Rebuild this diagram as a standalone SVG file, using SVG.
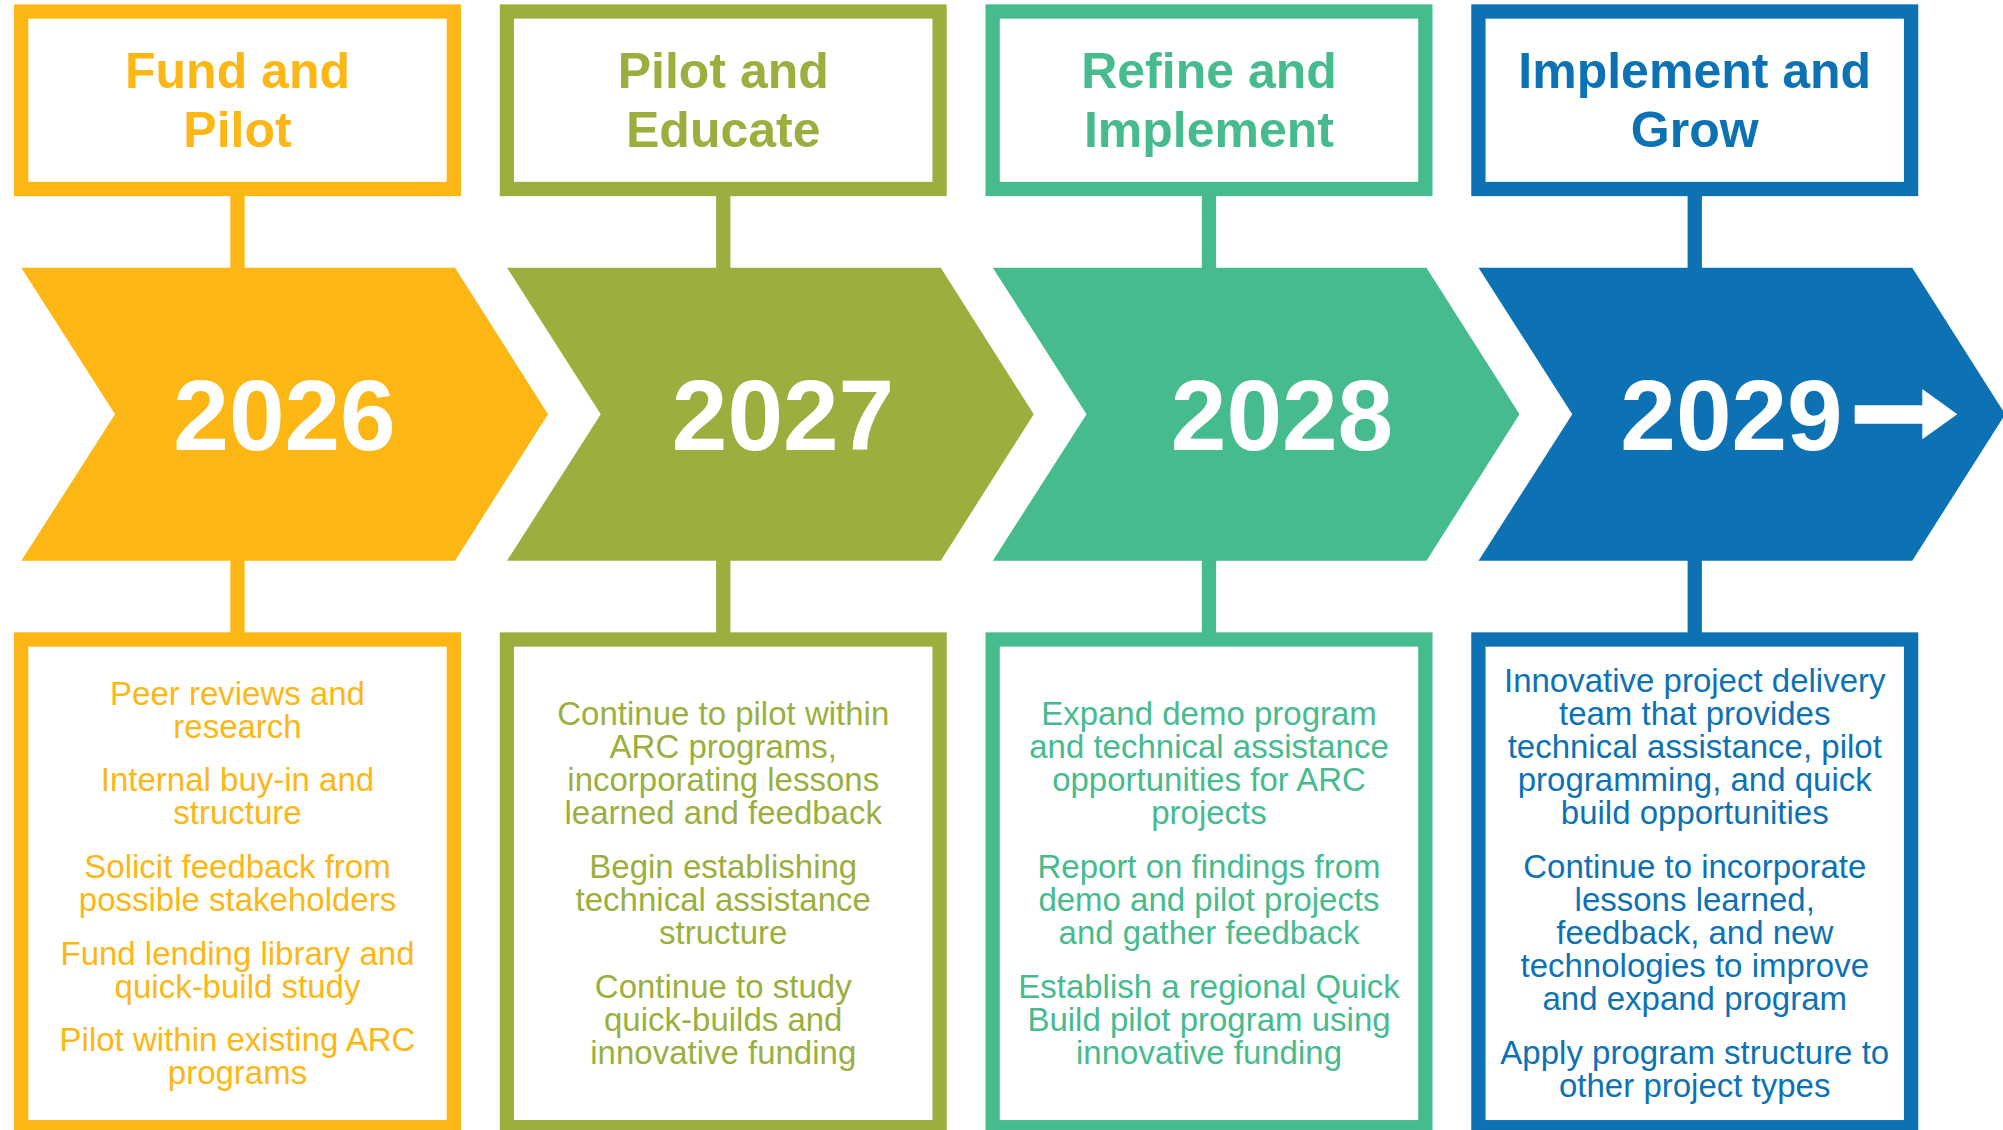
<svg xmlns="http://www.w3.org/2000/svg" width="2003" height="1130" viewBox="0 0 2003 1130">
  <style>
    .box { fill: #ffffff; stroke-width: 14.3; }
    .stem { stroke-width: 14.3; fill: none; }
    .hdr { font-family: "Liberation Sans", Arial, sans-serif; font-weight: bold; font-size: 50px; text-anchor: middle; }
    .year { font-family: "Liberation Sans", Arial, sans-serif; font-weight: bold; font-size: 100px; text-anchor: middle; fill: #ffffff; }
    .body { font-family: "Liberation Sans", Arial, sans-serif; font-size: 33px; text-anchor: middle; }
    .c1 { stroke: #FCB715; } .f1 { fill: #FCB715; }
    .c2 { stroke: #9BAF3E; } .f2 { fill: #9BAF3E; }
    .c3 { stroke: #46BB8E; } .f3 { fill: #46BB8E; }
    .c4 { stroke: #0D72B4; } .f4 { fill: #0D72B4; }
  </style>
  <rect width="2003" height="1130" fill="#ffffff"/>

  <g id="connectors">
    <line class="stem c1" x1="237.5" y1="190" x2="237.5" y2="269"/>
    <line class="stem c1" x1="237.5" y1="559" x2="237.5" y2="640"/>
    <line class="stem c2" x1="723.25" y1="190" x2="723.25" y2="269"/>
    <line class="stem c2" x1="723.25" y1="559" x2="723.25" y2="640"/>
    <line class="stem c3" x1="1209" y1="190" x2="1209" y2="269"/>
    <line class="stem c3" x1="1209" y1="559" x2="1209" y2="640"/>
    <line class="stem c4" x1="1694.75" y1="190" x2="1694.75" y2="269"/>
    <line class="stem c4" x1="1694.75" y1="559" x2="1694.75" y2="640"/>
  </g>

  <!-- Headers -->
  <g id="header-2026">
    <rect class="box c1" x="21.15" y="11.5" width="432.7" height="177.5"/>
    <text class="hdr f1" x="237.5" y="88">Fund and<tspan x="237.5" y="147">Pilot</tspan></text>
  </g>
  <g id="header-2027">
    <rect class="box c2" x="506.9" y="11.5" width="432.7" height="177.5"/>
    <text class="hdr f2" x="723.25" y="88">Pilot and<tspan x="723.25" y="147">Educate</tspan></text>
  </g>
  <g id="header-2028">
    <rect class="box c3" x="992.65" y="11.5" width="432.7" height="177.5"/>
    <text class="hdr f3" x="1209" y="88">Refine and<tspan x="1209" y="147">Implement</tspan></text>
  </g>
  <g id="header-2029">
    <rect class="box c4" x="1478.4" y="11.5" width="432.7" height="177.5"/>
    <text class="hdr f4" x="1694.75" y="88">Implement and<tspan x="1694.75" y="147">Grow</tspan></text>
  </g>

  <!-- Chevrons -->
  <g id="chevron-2026">
    <polygon class="f1" points="21.3,267.7 455,267.7 548,414.2 455,560.7 21.3,560.7 115,414.2"/>
    <text class="year" x="284.5" y="450">2026</text>
  </g>
  <g id="chevron-2027">
    <polygon class="f2" points="507.05,267.7 940.75,267.7 1033.75,414.2 940.75,560.7 507.05,560.7 600.75,414.2"/>
    <text class="year" x="783" y="450">2027</text>
  </g>
  <g id="chevron-2028">
    <polygon class="f3" points="992.8,267.7 1426.5,267.7 1519.5,414.2 1426.5,560.7 992.8,560.7 1086.5,414.2"/>
    <text class="year" x="1282" y="450">2028</text>
  </g>
  <g id="chevron-2029">
    <polygon class="f4" points="1478.55,267.7 1912.25,267.7 2005.25,414.2 1912.25,560.7 1478.55,560.7 1572.25,414.2"/>
    <text class="year" x="1731.5" y="450">2029</text>
    <polygon fill="#ffffff" points="1854.7,405.3 1922.3,405.3 1922.3,389 1957.3,414.3 1922.3,439.3 1922.3,423.7 1854.7,423.7"/>
  </g>

  <!-- Detail boxes -->
  <g id="details-2026">
    <rect class="box c1" x="21.15" y="639.5" width="432.7" height="487.7"/>
    <text class="body f1" x="237.5" y="705">Peer reviews and<tspan x="237.5" y="738">research</tspan></text>
    <text class="body f1" x="237.5" y="791">Internal buy-in and<tspan x="237.5" y="824">structure</tspan></text>
    <text class="body f1" x="237.5" y="877.5">Solicit feedback from<tspan x="237.5" y="910.5">possible stakeholders</tspan></text>
    <text class="body f1" x="237.5" y="964.5">Fund lending library and<tspan x="237.5" y="997.5">quick-build study</tspan></text>
    <text class="body f1" x="237.5" y="1051">Pilot within existing ARC<tspan x="237.5" y="1084">programs</tspan></text>
  </g>
  <g id="details-2027">
    <rect class="box c2" x="506.9" y="639.5" width="432.7" height="487.7"/>
    <text class="body f2" x="723.25" y="725">Continue to pilot within<tspan x="723.25" y="758">ARC programs,</tspan><tspan x="723.25" y="791">incorporating lessons</tspan><tspan x="723.25" y="824">learned and feedback</tspan></text>
    <text class="body f2" x="723.25" y="878">Begin establishing<tspan x="723.25" y="911">technical assistance</tspan><tspan x="723.25" y="944">structure</tspan></text>
    <text class="body f2" x="723.25" y="998">Continue to study<tspan x="723.25" y="1031">quick-builds and</tspan><tspan x="723.25" y="1064">innovative funding</tspan></text>
  </g>
  <g id="details-2028">
    <rect class="box c3" x="992.65" y="639.5" width="432.7" height="487.7"/>
    <text class="body f3" x="1209" y="725">Expand demo program<tspan x="1209" y="758">and technical assistance</tspan><tspan x="1209" y="791">opportunities for ARC</tspan><tspan x="1209" y="824">projects</tspan></text>
    <text class="body f3" x="1209" y="878">Report on findings from<tspan x="1209" y="911">demo and pilot projects</tspan><tspan x="1209" y="944">and gather feedback</tspan></text>
    <text class="body f3" x="1209" y="998">Establish a regional Quick<tspan x="1209" y="1031">Build pilot program using</tspan><tspan x="1209" y="1064">innovative funding</tspan></text>
  </g>
  <g id="details-2029">
    <rect class="box c4" x="1478.4" y="639.5" width="432.7" height="487.7"/>
    <text class="body f4" x="1694.75" y="692">Innovative project delivery<tspan x="1694.75" y="725">team that provides</tspan><tspan x="1694.75" y="758">technical assistance, pilot</tspan><tspan x="1694.75" y="791">programming, and quick</tspan><tspan x="1694.75" y="824">build opportunities</tspan></text>
    <text class="body f4" x="1694.75" y="878">Continue to incorporate<tspan x="1694.75" y="911">lessons learned,</tspan><tspan x="1694.75" y="944">feedback, and new</tspan><tspan x="1694.75" y="977">technologies to improve</tspan><tspan x="1694.75" y="1010">and expand program</tspan></text>
    <text class="body f4" x="1694.75" y="1064">Apply program structure to<tspan x="1694.75" y="1097">other project types</tspan></text>
  </g>
</svg>
